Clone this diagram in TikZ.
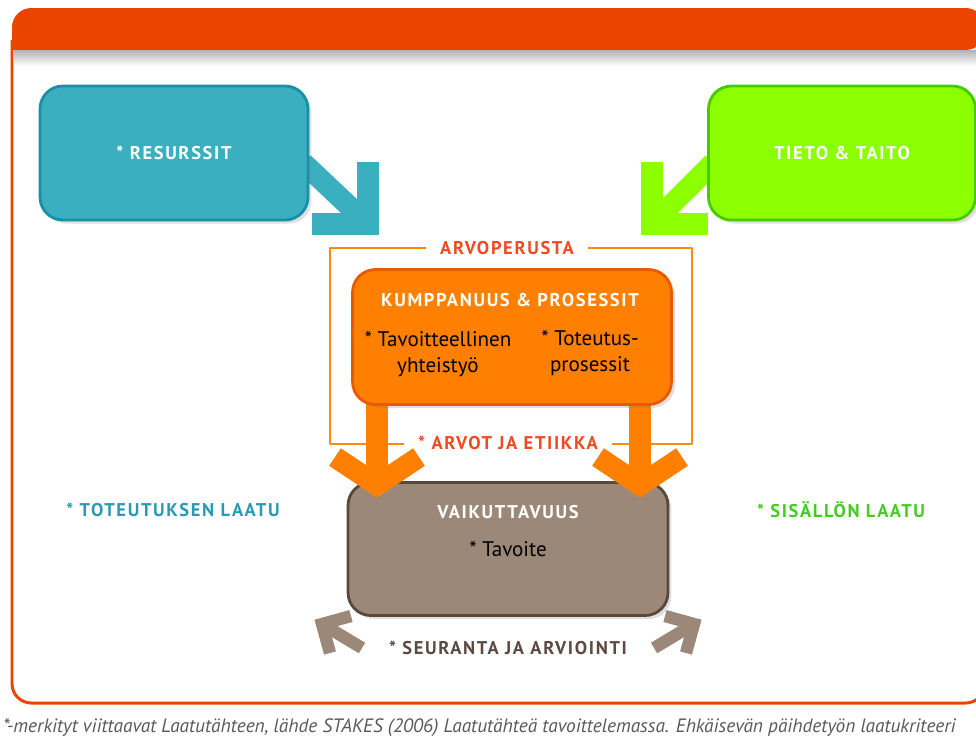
\documentclass[tikz,border=0pt]{standalone}
\usepackage{fontspec}
\setmainfont{PT Sans}
\newfontfamily\capsfont[LetterSpace=9]{PT Sans}
\usetikzlibrary{calc,shadows,backgrounds}
\definecolor{hdr}{HTML}{EB4400}
\definecolor{tealfill}{HTML}{3AAFBF}
\definecolor{tealline}{HTML}{1890A8}
\definecolor{tealtext}{HTML}{2A9AB4}
\definecolor{greenfill}{HTML}{8CFF00}
\definecolor{greenline}{HTML}{44CC00}
\definecolor{greentext}{HTML}{44CC22}
\definecolor{orfill}{HTML}{FF8000}
\definecolor{orline}{HTML}{E85A00}
\definecolor{arvoline}{HTML}{FF8A10}
\definecolor{arvotext}{HTML}{F04A20}
\definecolor{brfill}{HTML}{9C8878}
\definecolor{brline}{HTML}{5C4838}
\definecolor{brtext}{HTML}{5A4A42}
\begin{document}
\begin{tikzpicture}[x=0.02cm,y=-0.02cm,line join=round]
	\tikzset{box/.style={line width=1.6pt,rounded corners=13pt,
			drop shadow={shadow xshift=2pt,shadow yshift=-2pt,opacity=.25}},
		title/.style={font=\capsfont\bfseries\fontsize{10.5}{12}\selectfont,text=white},
		body/.style={font=\fontsize{12}{14.5}\selectfont,align=center},
		side/.style={font=\capsfont\bfseries\fontsize{10.5}{12}\selectfont},
		arvo/.style={font=\capsfont\bfseries\fontsize{10.5}{12}\selectfont,text=arvotext,fill=white,inner ysep=2pt},
		block/.style={line width=12pt,line join=miter,line cap=butt}}
	\useasboundingbox (0,0) rectangle (976,738);
	% kehys
	\fill[hdr] (12,50) [rounded corners=11pt] -- (12,8) -- (985,8) -- (985,50) [sharp corners] -- cycle;
	\shade[top color=black!30,bottom color=white] (14,50) rectangle (976,66);
	\draw[hdr,line width=1.7pt,rounded corners=11pt] (12,40) -- (12,703) -- (985,703) -- (985,40);
	% arvoperusta
	\draw[arvoline,line width=1.6pt] (330,248) rectangle (692,444);
	\node[arvo,inner xsep=8pt] (arvoperusta) at (507,248) {ARVOPERUSTA};
	\node[arvo,inner xsep=8pt] (arvot) at (508,443) {* ARVOT JA ETIIKKA};
	% vaikuttavuus
	\node[box,fill=brfill,draw=brline,minimum width=6.4cm,minimum height=2.66cm] (vaik) at (508,549) {};
	\node[title] (vaikt) at (508,512) {VAIKUTTAVUUS};
	\node[body] (tavoite) at (508,549) {* Tavoite};
	% nuolet
	\coordinate (kumpTipL) at (377,485);
	\coordinate (kumpTipR) at (640,485);
	\draw[block,orfill] (512,380 -| kumpTipL) -- (kumpTipL);
	\draw[block,orfill] (512,380 -| kumpTipR) -- (kumpTipR);
	\draw[block,orfill] ($(kumpTipL)+(-42,-28)$) -- (kumpTipL) -- ($(kumpTipL)+(42,-28)$);
	\draw[block,orfill] ($(kumpTipR)+(-42,-28)$) -- (kumpTipR) -- ($(kumpTipR)+(42,-28)$);
	% kumppanuus
	\node[box,fill=orfill,draw=orline,minimum width=6.38cm,minimum height=2.7cm] (kump) at (512,337) {};
	\node[title] (kumpt) at (510,300) {KUMPPANUUS \& PROSESSIT};
	\node[body] (yhteistyo) at (438,354) {* Tavoitteellinen\\yhteistyö};
	\node[body] (toteutus) at (590,353) {* Toteutus-\\prosessit};
	% resurssit ja tieto
	\node[box,fill=tealfill,draw=tealline,minimum width=5.36cm,minimum height=2.68cm,
		font=\capsfont\bfseries\fontsize{10.5}{12}\selectfont,text=white] (res) at (174,153) {* RESURSSIT};
	\node[box,fill=greenfill,draw=greenline,minimum width=5.34cm,minimum height=2.68cm,
		font=\capsfont\bfseries\fontsize{10.5}{12}\selectfont,text=white] (tieto) at (842,153) {TIETO \& TAITO};
	\coordinate (resTip) at (368,224);
	\coordinate (tietoTip) at (652,224);
	\begin{pgfonlayer}{background}
		\draw[block,tealfill] ($(res.east)+(-6,10)$) -- (resTip);
		\draw[block,tealfill] ($(resTip)+(-56,0)$) -- (resTip) -- ($(resTip)+(0,-62)$);
		\draw[block,greenfill] ($(tieto.west)+(6,10)$) -- (tietoTip);
		\draw[block,greenfill] ($(tietoTip)+(56,0)$) -- (tietoTip) -- ($(tietoTip)+(0,-62)$);
	\end{pgfonlayer}
	% laatu
	\node[side,text=tealtext] (toteutuslaatu) at (173,510) {* TOTEUTUKSEN LAATU};
	\node[side,text=greentext] (sisaltolaatu) at (841,510) {* SISÄLLÖN LAATU};
	% seuranta
	\coordinate (seurL) at (362,648);
	\coordinate (seurTipL) at (322,624);
	\coordinate (seurR) at (654,648);
	\coordinate (seurTipR) at (694,624);
	\draw[block,brfill,line width=7pt] (seurL) -- (seurTipL);
	\draw[block,brfill,line width=7pt] ($(seurTipL)+(8,29)$) -- (seurTipL) -- ($(seurTipL)+(29,-8)$);
	\draw[block,brfill,line width=7pt] (seurR) -- (seurTipR);
	\draw[block,brfill,line width=7pt] ($(seurTipR)+(-8,29)$) -- (seurTipR) -- ($(seurTipR)+(-29,-8)$);
	\node[side,text=brtext] (seuranta) at (508,648) {* SEURANTA JA ARVIOINTI};
	% lahde
	\node[anchor=west,font=\itshape\fontsize{11}{13}\selectfont,text=black!65,inner sep=0pt] (lahde) at (3,728)
	{*-merkityt viittaavat Laatutähteen, lähde STAKES (2006) Laatutähteä tavoittelemassa. Ehkäisevän päihdetyön laatukriteeri};
\end{tikzpicture}
\end{document}
